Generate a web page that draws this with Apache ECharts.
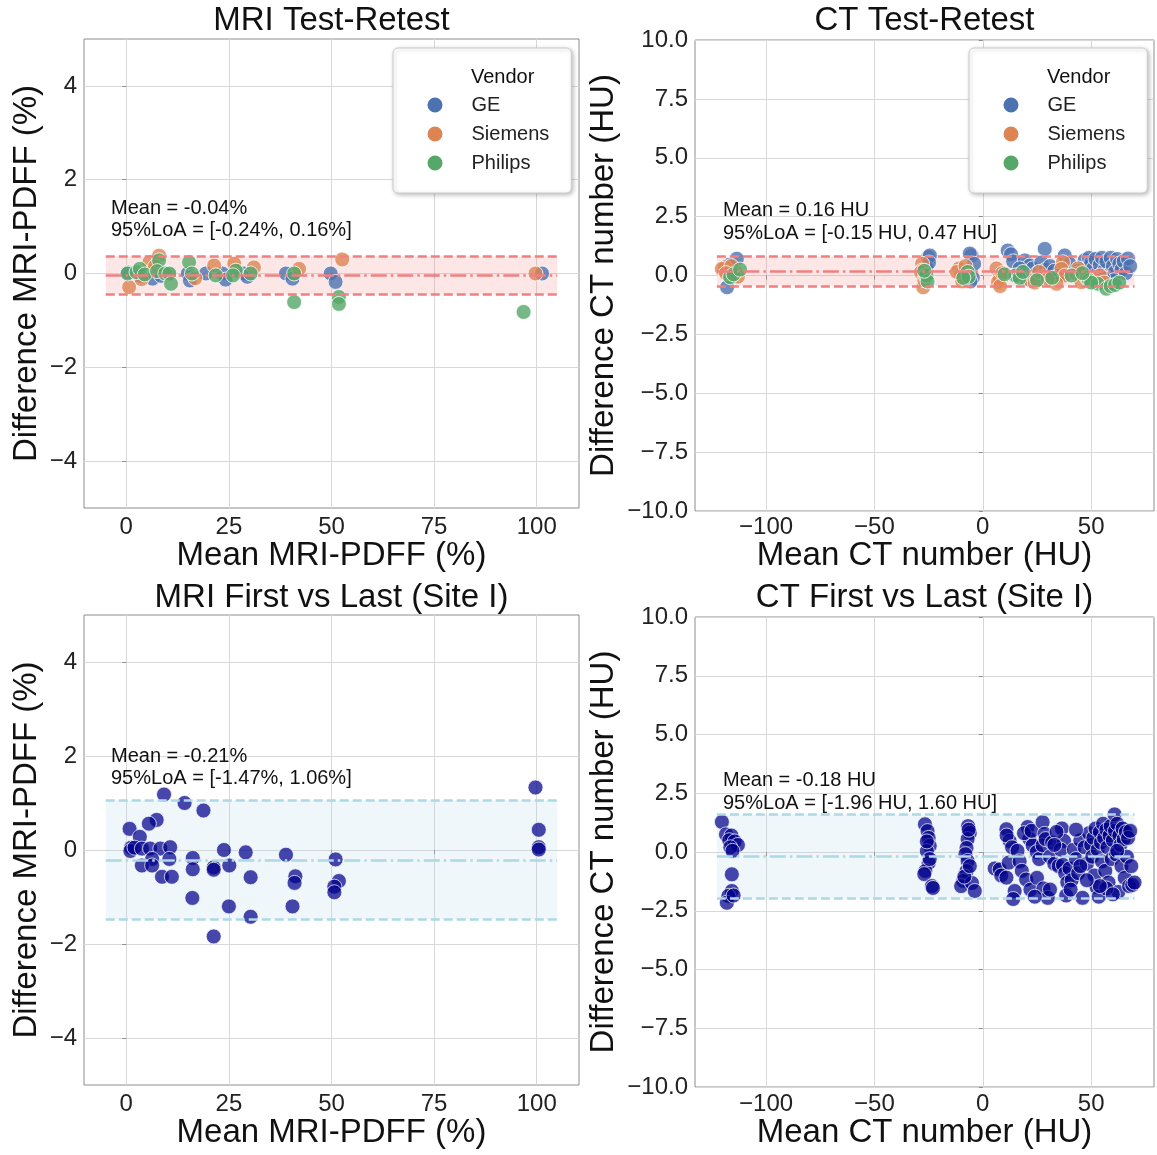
<!DOCTYPE html>
<html><head><meta charset="utf-8">
<script src="https://cdn.jsdelivr.net/npm/echarts@6/dist/echarts.min.js"></script>
<style>html,body{margin:0;padding:0;background:#fff}#c{width:1157px;height:1155px}</style>
</head><body><div id="c"></div><script>
// ---------- DATA ----------
// Panel 1: MRI Test-Retest  [mean PDFF %, difference %]
const mriTR_GE = [[0.5,0.02],[3.5,-0.05],[6.4,-0.11],[8.5,-0.05],[10,0.0],[15,0.0],[15.5,-0.15],[19.4,0.0],[23.4,0.0],[24.2,-0.13],[28.7,0.0],[29.5,-0.07],[38.9,0.0],[40.5,-0.11],[49.8,0.0],[51.0,-0.18],[101.3,0.0]];
const mriTR_Siemens = [[0.7,-0.29],[3.7,-0.12],[5.6,0.24],[8.0,0.38],[7.0,0.15],[10.3,-0.02],[16.8,-0.1],[21.4,0.17],[26.3,0.21],[31.1,0.13],[42.1,0.10],[52.6,0.30],[99.7,0.0]];
const mriTR_Philips = [[0.3,0.0],[2.5,0.03],[3.3,0.1],[4.5,-0.02],[8.0,0.28],[7.5,0.05],[9.5,0.0],[10.5,0.0],[10.9,-0.22],[15.3,0.24],[16.0,0.0],[21.8,-0.04],[26.7,0.06],[26.0,-0.04],[30.3,0.0],[40.9,0.0],[40.9,-0.61],[51.8,-0.5],[51.8,-0.65],[96.8,-0.82]];
// Panel 2: CT Test-Retest [mean HU, difference HU]
const ctTR_GE = [[-113.5,0.71],[-118,-0.5],[-115,0.2],[-117,0.45],[-25.2,0.78],[-24.4,0.85],[-26,0.35],[-24.8,0.55],[-5.2,0.85],[-6,0.93],[-4.6,-0.1],[-5.7,-0.25],[-4,0.5],[11.5,1.06],[13,0.9],[14,0.6],[19.4,0.64],[21.7,0.42],[20,-0.14],[23,0.3],[25,0.1],[28.6,1.13],[27,0.55],[29,0.25],[28,-0.05],[31,0.4],[33,0.2],[37.8,0.85],[35,0.0],[40,0.5],[47,0.65],[49,0.75],[50,0.55],[51,0.3],[52,0.7],[53,0.1],[54,0.45],[55,0.75],[56,0.2],[57,0.6],[58,0.0],[59,0.75],[60,0.4],[61,0.15],[62,0.7],[63,0.5],[64,0.25],[65,0.6],[66,0.1],[67,0.72],[68,0.4],[60.5,-0.2],[55.5,-0.1],[17,0.3],[16,0.0],[44,0.2]];
const ctTR_Siemens = [[-119,0.35],[-120.4,0.28],[-114,0.15],[-116,0.4],[-118.5,0.1],[-113,-0.05],[-28,0.5],[-28,0.21],[-27.5,-0.5],[-28.5,0.13],[-27,-0.2],[-26.5,0.0],[-11,0.3],[-10,0.06],[-9.5,-0.25],[-12,0.15],[-8,0.4],[6.3,0.3],[7.8,-0.07],[7,-0.28],[9,0.1],[8,-0.45],[22,-0.2],[24,-0.3],[26,0.15],[37,0.56],[36.3,0.28],[38,0.0],[43.2,0.07],[45.5,-0.28],[44,0.3],[48,-0.1],[52,-0.2],[54,0.0],[56,-0.3],[34,-0.35],[30,-0.15]];
const ctTR_Philips = [[-116.6,-0.07],[-115,0.05],[-112,0.25],[-26,0.0],[-25.5,-0.25],[-27,0.2],[-7,0.15],[-6.5,-0.05],[-9,-0.1],[15,0.0],[17,-0.1],[18.5,0.15],[10,0.05],[25,-0.2],[32,-0.1],[41,0.0],[49,-0.2],[53,-0.35],[57,-0.56],[59,-0.45],[61,-0.4],[63,-0.3],[50,-0.3],[46,0.1]];
// Panel 3: MRI First vs Last (Site I)
const mriFL = [[9.2,1.18],[14.2,1.0],[18.8,0.84],[7.4,0.64],[5.5,0.56],[0.8,0.45],[3.3,0.28],[1.2,0.05],[1.0,-0.02],[2.0,0.05],[3.8,0.03],[5.8,0.03],[8.3,0.03],[10.7,0.06],[6.3,-0.19],[10.5,-0.19],[3.8,-0.33],[6.3,-0.33],[8.7,-0.57],[11.1,-0.57],[16.2,-0.17],[16.2,-0.41],[16.1,-1.02],[23.8,0.0],[21.3,-0.37],[21.3,-0.42],[25.1,-0.33],[29.1,-0.05],[30.3,-0.58],[25.0,-1.2],[30.3,-1.42],[21.3,-1.84],[38.9,-0.1],[41.2,-0.56],[41.0,-0.7],[40.5,-1.2],[51.0,-0.2],[51.8,-0.66],[50.7,-0.78],[50.7,-0.9],[99.7,1.33],[100.5,0.43],[100.5,0.06],[100.5,0.01]];
// Panel 4: CT First vs Last (Site I)
const ctFL = [[-120.4,1.28],[-118.5,0.75],[-116,0.7],[-117,0.5],[-114.5,0.45],[-113,0.3],[-116.5,0.2],[-115.5,0.05],[-115.8,-0.95],[-115.8,-1.66],[-117.4,-1.87],[-118.1,-2.16],[-115,-1.85],
 [-26.7,1.18],[-25.5,0.89],[-25,0.6],[-24.5,0.26],[-25.8,0.04],[-25,-0.47],[-26.5,-0.81],[-27,-0.94],[-23.5,-1.45],[-23,-1.53],[-24.5,-0.3],[-25.8,0.45],
 [-6.8,1.1],[-6,0.81],[-7,0.55],[-7.5,0.17],[-8,-0.09],[-7,-0.38],[-7.5,-0.81],[-9,-1.23],[-10,-1.45],[-5,-1.32],[-3.7,-1.66],[-6.5,0.95],[-8.5,-1.05],[-6,-0.6],
 [5.5,-0.7],[7.8,-0.74],[8.5,-1.0],[10.9,0.97],[12.4,0.47],[11,0.7],[10.9,-1.09],[12,-0.45],[14.7,-1.66],[14,-2.0],[13.5,0.2],[16,0.05],[17,-0.4],[18,-0.8],[20,-1.17],[22,-1.6],[20.7,1.06],[21.5,0.56],[23,0.28],[24.9,0.0],[19,0.8],[22.5,0.9],[26,-0.3],[27.6,1.27],[28.5,0.77],[27.6,0.28],[29,0.55],[25,-1.1],[28,-1.55],[30,-1.95],[31,-0.2],[32,0.4],[33,-0.5],[35,-0.6],[37,-0.55],[36.5,1.0],[37.5,0.47],[36,0.1],[38,-0.9],[39,-1.3],[38.5,-1.85],[40,-0.7],[41,-1.2],[40.5,-1.6],[42,0.1],[43,-0.3],[44,-0.9],[45,0.5],[46,-1.95],[47,0.2],[48,-0.5],[49,0.8],[50,0.3],[50.5,-0.2],[51,0.6],[51.5,-1.0],[52,1.0],[52.5,-1.5],[53,0.1],[53.5,-1.9],[54,0.85],[54.5,0.4],[55,-0.4],[55.5,1.2],[56,0.6],[56.5,-0.8],[57,0.95],[57.5,0.2],[58,-1.3],[58.5,0.7],[59,1.1],[59.5,-0.3],[60,0.5],[60.8,1.6],[61,0.9],[61.5,-0.1],[62,1.2],[62.5,-1.7],[63,0.7],[63.5,0.3],[64,-0.6],[64.5,1.0],[65,0.55],[65.5,-1.1],[66,0.85],[66.5,-0.2],[67,0.6],[67.5,-1.45],[68,0.9],[68.5,-0.6],[69,-1.4],[70,-1.3],[57,-1.55],[54,-1.45],[60,-1.8],[62,0.05],[48,-1.2],[45,-0.6],[43,0.95],[34,0.85],[33,0.3],[31,-1.6],[24,-1.9]];

// Bland-Altman statistics [mean, lower limit, upper limit] and band x-extent
const statsMriTR = [-0.04, -0.44, 0.36];
const statsCtTR = [0.18, -0.44, 0.80];
const statsMriFL = [-0.21, -1.47, 1.06];
const statsCtFL = [-0.18, -1.96, 1.60];
const bandMri = [-5, 105];
const bandCt = [-122.7, 70];

// ticks / labels
const mriXTicks = [0, 25, 50, 75, 100];
const mriYTicks = [-4, -2, 0, 2, 4];
const ctXTicks = [-100, -50, 0, 50];
const vendors = ['GE', 'Siemens', 'Philips'];
const titles = ['MRI Test-Retest', 'CT Test-Retest', 'MRI First vs Last (Site I)', 'CT First vs Last (Site I)'];
const annMriTR = ['Mean = -0.04%', '95%LoA = [-0.24%, 0.16%]'];
const annCtTR = ['Mean = 0.16 HU', '95%LoA = [-0.15 HU, 0.47 HU]'];
const annMriFL = ['Mean = -0.21%', '95%LoA = [-1.47%, 1.06%]'];
const annCtFL = ['Mean = -0.18 HU', '95%LoA = [-1.96 HU, 1.60 HU]'];

// ---------- CHART ----------
const FF = '"Liberation Sans", Arial, Helvetica, sans-serif';
const vendorColors = {GE: '#4C72B0', Siemens: '#DD8452', Philips: '#55A868'};
const minus = s => String(s).replace('-', '\u2212');
const fmtInt = v => minus(v);
const fmt1 = v => minus(v.toFixed(1));

const grids = [
  {left: 84, top: 39, width: 495, height: 469},
  {left: 695, top: 40, width: 459, height: 471},
  {left: 84, top: 615, width: 495, height: 470},
  {left: 695, top: 617, width: 459, height: 470}
].map(g => Object.assign({show: true, borderColor: '#8c8c8c', borderWidth: 1, backgroundColor: '#fff', outerBoundsMode: 'none', containLabel: false}, g));

function xAx(gi, min, max, ticks, name, gap, margin) {
  return {type: 'value', gridIndex: gi, min, max, name, nameLocation: 'middle', nameGap: gap,
    nameTextStyle: {fontSize: 33, color: '#111', fontFamily: FF},
    axisLine: {show: false},
    axisTick: {show: true, length: 4, lineStyle: {color: '#8c8c8c'}, customValues: ticks},
    axisLabel: {customValues: ticks, fontSize: 24, color: '#222', margin: margin, fontFamily: FF, formatter: fmtInt},
    splitLine: {show: true, lineStyle: {color: '#d8d8d8', width: 1}}};
}
function yAx(gi, min, max, opts, name, gap) {
  const a = {type: 'value', gridIndex: gi, min, max, name, nameLocation: 'middle', nameGap: gap,
    nameTextStyle: {fontSize: 33, color: '#111', fontFamily: FF},
    axisLine: {show: false},
    axisTick: {show: true, length: 4, lineStyle: {color: '#8c8c8c'}},
    axisLabel: {fontSize: 24, color: '#222', margin: 7, fontFamily: FF, formatter: opts.fmt},
    splitLine: {show: true, lineStyle: {color: '#d8d8d8', width: 1}}};
  if (opts.ticks) { a.axisTick.customValues = opts.ticks; a.axisLabel.customValues = opts.ticks; }
  if (opts.interval) a.interval = opts.interval;
  return a;
}

const xAxes = [
  xAx(0, -10.3, 110.3, mriXTicks, 'Mean MRI-PDFF (%)', 31, 7),
  xAx(1, -132.8, 79, ctXTicks, 'Mean CT number (HU)', 27, 4),
  xAx(2, -10.3, 110.3, mriXTicks, 'Mean MRI-PDFF (%)', 31, 7),
  xAx(3, -132.8, 79, ctXTicks, 'Mean CT number (HU)', 28, 5)
];
const yAxes = [
  yAx(0, -5, 5, {ticks: mriYTicks, fmt: fmtInt}, 'Difference MRI-PDFF (%)', 41),
  yAx(1, -10, 10, {interval: 2.5, fmt: fmt1}, 'Difference CT number (HU)', 75),
  yAx(2, -5, 5, {ticks: mriYTicks, fmt: fmtInt}, 'Difference MRI-PDFF (%)', 41),
  yAx(3, -10, 10, {interval: 2.5, fmt: fmt1}, 'Difference CT number (HU)', 75)
];

const series = [];
function addBA(gi, stats, band, color, fill) {
  const [m, lo, hi] = stats;
  series.push({type: 'scatter', xAxisIndex: gi, yAxisIndex: gi, data: [], z: 1, silent: true,
    markArea: {silent: true, itemStyle: {color: fill}, data: [[{coord: [band[0], lo]}, {coord: [band[1], hi]}]]}});
  const dashed = {color, width: 2.5, type: [9, 4], opacity: 1};
  const dashdot = {color, width: 2.5, type: [16, 4, 2.5, 4], opacity: 1};
  series.push({type: 'scatter', xAxisIndex: gi, yAxisIndex: gi, data: [], z: 5, silent: true,
    markLine: {silent: true, symbol: 'none', label: {show: false}, animation: false,
      data: [
        [{coord: [band[0], m], lineStyle: dashdot}, {coord: [band[1], m]}],
        [{coord: [band[0], lo], lineStyle: dashed}, {coord: [band[1], lo]}],
        [{coord: [band[0], hi], lineStyle: dashed}, {coord: [band[1], hi]}]
      ]}});
}
function addPts(gi, name, data, color, opacity) {
  series.push({type: 'scatter', name, xAxisIndex: gi, yAxisIndex: gi, data, symbolSize: 15, z: 3,
    itemStyle: {color, opacity, borderColor: '#ffffff', borderWidth: 1}, emphasis: {disabled: true}});
}

addBA(0, statsMriTR, bandMri, '#F08080', 'rgba(240,128,128,0.2)');
addPts(0, 'GE', mriTR_GE, vendorColors.GE, 0.8);
addPts(0, 'Siemens', mriTR_Siemens, vendorColors.Siemens, 0.8);
addPts(0, 'Philips', mriTR_Philips, vendorColors.Philips, 0.8);

addBA(1, statsCtTR, bandCt, '#F08080', 'rgba(240,128,128,0.2)');
addPts(1, 'GE', ctTR_GE, vendorColors.GE, 0.8);
addPts(1, 'Siemens', ctTR_Siemens, vendorColors.Siemens, 0.8);
addPts(1, 'Philips', ctTR_Philips, vendorColors.Philips, 0.8);

addBA(2, statsMriFL, bandMri, '#ADD8E6', 'rgba(173,216,230,0.2)');
addPts(2, 'First vs Last', mriFL, '#00008B', 0.72);
addBA(3, statsCtFL, bandCt, '#ADD8E6', 'rgba(173,216,230,0.2)');
addPts(3, 'First vs Last ', ctFL, '#00008B', 0.72);

function legend(left) {
  return {show: true, orient: 'vertical', left, top: 48, selectedMode: false,
    data: vendors.map(v => ({name: v, icon: 'circle', itemStyle: {opacity: 1}})),
    itemWidth: 17, itemHeight: 17, itemGap: 9,
    padding: [47, 22, 20, 32.5],
    backgroundColor: '#ffffff', borderColor: '#cccccc', borderWidth: 1, borderRadius: 5,
    shadowBlur: 4, shadowColor: 'rgba(0,0,0,0.25)', shadowOffsetX: 1.5, shadowOffsetY: 1.5,
    textStyle: {fontSize: 20, lineHeight: 20, color: '#222', fontFamily: FF, padding: [0, 0, 0, 23]}};
}

function txt(x, y, text, size, align) {
  return {type: 'text', x, y, z: 100, silent: true,
    style: {text, font: size + 'px ' + FF, fill: '#111', textAlign: align || 'left', textVerticalAlign: 'middle'}};
}
const graphic = [
  txt(331.5, 21, titles[0], 33, 'center'),
  txt(924.5, 21, titles[1], 33, 'center'),
  txt(331.5, 598, titles[2], 33, 'center'),
  txt(924.5, 598, titles[3], 33, 'center'),
  txt(111, 208, annMriTR[0], 20), txt(111, 230, annMriTR[1], 20),
  txt(723, 210, annCtTR[0], 20), txt(723, 233, annCtTR[1], 20),
  txt(111, 756, annMriFL[0], 20), txt(111, 778, annMriFL[1], 20),
  txt(723, 780, annCtFL[0], 20), txt(723, 803, annCtFL[1], 20),
  txt(471, 77, 'Vendor', 20), txt(1047, 77, 'Vendor', 20)
];

const chart = echarts.init(document.getElementById('c'), null, {renderer: 'canvas'});
chart.setOption({
  animation: false,
  backgroundColor: '#ffffff',
  textStyle: {fontFamily: FF},
  grid: grids, xAxis: xAxes, yAxis: yAxes, series,
  legend: [legend(393), legend(969)],
  graphic
});
</script></body></html>
